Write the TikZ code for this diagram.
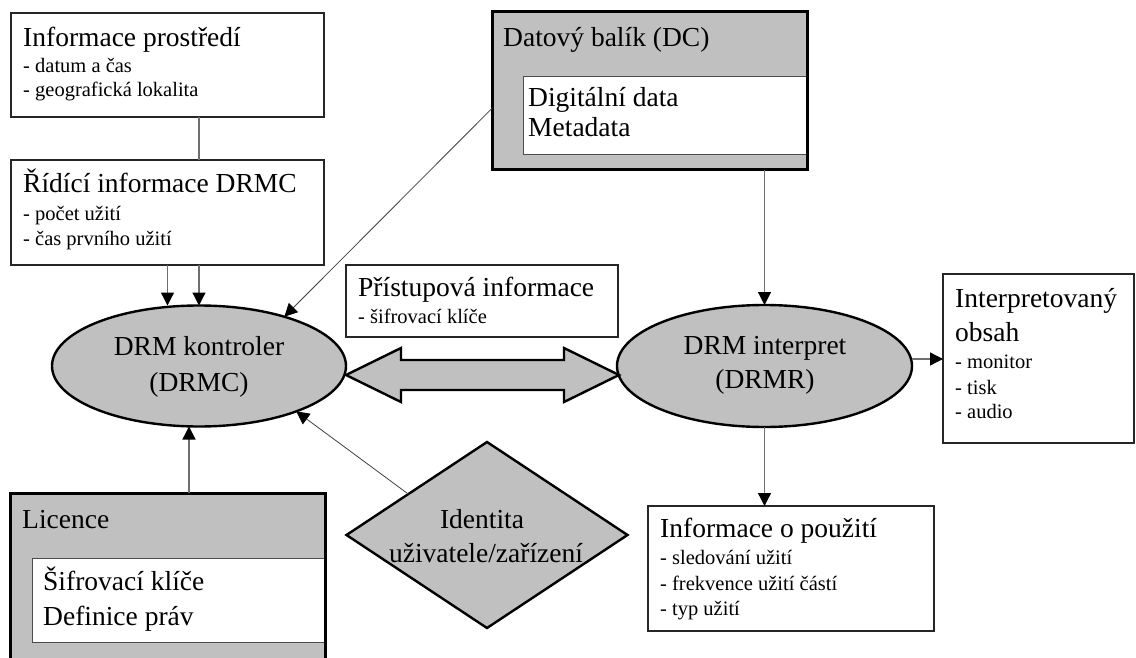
\documentclass[tikz,border=0pt]{standalone}
\usepackage{fontspec}
\setmainfont{Liberation Serif}
\usetikzlibrary{arrows.meta,shapes.geometric,calc}
\definecolor{panelgray}{HTML}{C0C0C0}
\definecolor{linegray}{HTML}{6E6E6E}

\begin{document}
\begin{tikzpicture}[x=1pt,y=-1pt,
  big/.style={font=\fontsize{27.5}{30}\selectfont, inner sep=0, anchor=base west},
  small/.style={font=\fontsize{20.5}{24}\selectfont, inner sep=0, anchor=base west},
  bigc/.style={font=\fontsize{27.5}{30}\selectfont, inner sep=0, anchor=base},
  thinbox/.style={draw=black!85, line width=1.3pt, fill=white, inner sep=0, outer sep=0, anchor=north west},
  thickbox/.style={draw=black, line width=3pt, fill=panelgray, inner sep=0, outer sep=0, anchor=north west},
  innerbox/.style={draw=black!70, line width=1pt, fill=white, inner sep=0, outer sep=0, anchor=north west},
  actor/.style={ellipse, draw=black, line width=2.4pt, fill=panelgray, inner sep=0, outer sep=0},
  conn/.style={draw=linegray, line width=1.3pt},
  arr/.style={conn, -{Triangle[length=13pt,width=13pt,color=black]}},
  slimarr/.style={draw=black!75, line width=0.8pt, -{Triangle[length=13pt,width=13pt,color=black]}},
  bigarrow/.style={draw=black, line width=2.4pt, fill=panelgray, line join=miter}
]
\useasboundingbox (0,0) rectangle (1136,658);
\clip (0,0) rectangle (1136,658);

% --- boxes on the left
\node[thinbox, minimum width=313, minimum height=104] (env) at (11,13) {};
\node[big]   (envT)  at (23,47)  {Informace prostředí};
\node[small] (envA)  at (23,73)  {- datum a čas};
\node[small] (envB)  at (23,97)  {- geografická lokalita};

\node[thinbox, minimum width=313, minimum height=105] (ctrl) at (11,160) {};
\node[big]   (ctrlT) at (23,193) {Řídící informace DRMC};
\node[small] (ctrlA) at (23,220) {- počet užití};
\node[small] (ctrlB) at (23,245) {- čas prvního užití};

% --- licence panel
\node[thickbox, minimum width=315, minimum height=190] (lic) at (10,493) {};
\node[innerbox, minimum width=293, minimum height=84] (licin) at (32,558) {};
\draw[draw=black, line width=3pt] (lic.north west) rectangle (lic.south east);
\node[big] (licT) at (22,528) {Licence};
\node[big] (licA) at (43,590) {Šifrovací klíče};
\node[big] (licB) at (43,625) {Definice práv};

% --- data container panel
\node[thickbox, minimum width=315, minimum height=158] (dc) at (492,12) {};
\node[innerbox, minimum width=284, minimum height=78] (dcin) at (523,77) {};
\draw[draw=black, line width=3pt] (dc.north west) rectangle (dc.south east);
\node[big] (dcT) at (503,47)  {Datový balík (DC)};
\node[big] (dcA) at (528,107) {Digitální data};
\node[big] (dcB) at (528,137) {Metadata};

% --- access information
\node[thinbox, minimum width=272, minimum height=72] (acc) at (346,265) {};
\node[big]   (accT) at (358,296) {Přístupová informace};
\node[small] (accA) at (358,323) {- šifrovací klíče};

% --- rendered content
\node[thinbox, minimum width=191, minimum height=169] (interp) at (943,274) {};
\node[big]   (intT) at (955,307) {Interpretovaný};
\node[big]   (intU) at (955,341) {obsah};
\node[small] (intA) at (955,368) {- monitor};
\node[small] (intB) at (955,394) {- tisk};
\node[small] (intC) at (955,418) {- audio};

% --- usage information
\node[thinbox, minimum width=286, minimum height=125] (use) at (648,506) {};
\node[big]   (useT) at (660,537) {Informace o použití};
\node[small] (useA) at (660,564) {- sledování užití};
\node[small] (useB) at (660,590) {- frekvence užití částí};
\node[small] (useC) at (660,615) {- typ užití};

% --- controller and interpreter
\node[actor, minimum width=294, minimum height=121] (drmc) at (199,366) {};
\node[bigc] (drmcA) at (199,355) {DRM kontroler};
\node[bigc] (drmcB) at (199,391) {(DRMC)};

\node[actor, minimum width=295, minimum height=122] (drmr) at (764.5,366) {};
\node[bigc] (drmrA) at (765,354) {DRM interpret};
\node[bigc] (drmrB) at (765,388) {(DRMR)};

% --- user / device identity
\node[diamond, draw=black, line width=2.4pt, fill=panelgray, inner sep=0, outer sep=0,
      minimum width=281, minimum height=186] (ident) at (487,535) {};
\node[bigc] (idA) at (482,528) {Identita};
\node[bigc] (idB) at (486,562) {uživatele/zařízení};

% --- two-way exchange between controller and interpreter
\draw[bigarrow] ([yshift=-9pt]drmc.east) -- ++(55,-27) -- ++(0,12) -- ++(163,0)
   -- ++(0,-12) -- ++(55,27) -- ++(-55,27) -- ++(0,-12) -- ++(-163,0)
   -- ++(0,12) -- cycle;

% --- connectors
\coordinate (drmrOut) at ([yshift=7pt]drmr.east);
\coordinate (licIn) at ([xshift=-10pt]drmc.south);
\draw[conn] (env.south -| drmc.north) -- (ctrl.north -| drmc.north);
\draw[arr] (ctrl.south) -- (ctrl.south |- drmc.north);
\draw[arr] (ctrl.south -| drmc.north) -- (drmc.north);
\draw[arr] (licIn |- lic.north) -- (licIn);
\draw[slimarr] ($(dc.north west)!0.61!(dc.south west)$) -- (drmc.30);
\draw[slimarr] ($(ident.west)!0.44!(ident.north)$) -- (drmc.-25);
\draw[arr] (dc.south -| drmr.north) -- (drmr.north);
\draw[arr] (drmr.south) -- (use.north -| drmr.south);
\draw[arr] (drmrOut) -- (drmrOut -| interp.west);
\end{tikzpicture}
\end{document}
